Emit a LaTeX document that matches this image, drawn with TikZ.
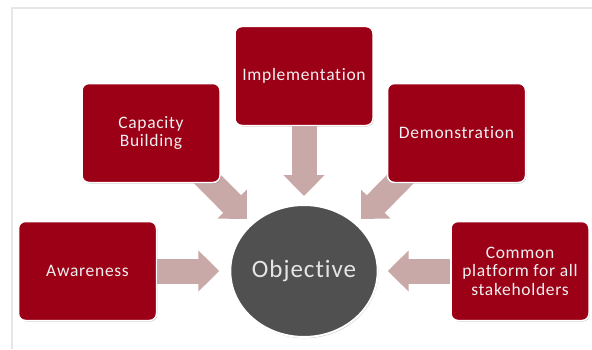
\documentclass[tikz,border=0pt]{standalone}
\usepackage{fontspec}
\setmainfont{Carlito}[LetterSpace=4,RawFeature={-liga}]
\usetikzlibrary{arrows.meta,shapes.geometric,shadows,backgrounds}
\definecolor{boxred}{RGB}{155,0,22}
\definecolor{flowpink}{RGB}{201,169,168}
\definecolor{hubgray}{RGB}{80,80,80}
\definecolor{framegray}{RGB}{230,230,230}
\begin{document}
\begin{tikzpicture}[x=1pt,y=1pt,
  goalbox/.style={draw=white,line width=1.5pt,fill=boxred,rounded corners=7pt,
    minimum width=138pt,minimum height=99pt,align=center,text=white!94!black,
    font=\fontsize{17.5}{18.5}\selectfont,
    drop shadow={shadow xshift=.8pt,shadow yshift=-1pt,opacity=.25,fill=black}},
  hub/.style={ellipse,draw=white,line width=2pt,fill=hubgray,inner sep=0pt,
    minimum width=144pt,minimum height=132pt,text=white!90!black,
    font=\fontsize{25}{30}\selectfont,
    drop shadow={shadow xshift=.8pt,shadow yshift=-1.2pt,opacity=.25,fill=black}},
  flow/.style={draw=flowpink,line width=25pt,-{Triangle[width=40pt,length=21pt]}}]
\useasboundingbox (0,0) rectangle (592,349);
\node[hub] (obj) at (304,78) {Objective};
\node[goalbox] (aw) at (87.5,78) {Awareness};
\node[goalbox] (cap) at (151,216) {Capacity\\Building};
\node[goalbox] (imp) at (304,273) {Implementation};
\node[goalbox] (dem) at (456.5,216) {Demonstration};
\node[goalbox] (com) at (520,78) {Common\\platform for all\\stakeholders};
\coordinate (capTip) at (247,130);
\coordinate (demTip) at (361,130);
\begin{scope}[on background layer]
\draw[framegray,line width=2pt] (12,0) -- (12,341) -- (592,341);
\draw[flow] ([shift={(-33,24)}]cap.south east) -- (capTip);
\draw[flow] ([shift={(33,24)}]dem.south west) -- (demTip);
\end{scope}
\draw[flow,shorten >=10pt] (aw) -- (obj);
\draw[flow,shorten >=8pt] (imp) -- (obj);
\draw[flow,shorten >=9pt] (com) -- (obj);
\end{tikzpicture}
\end{document}
